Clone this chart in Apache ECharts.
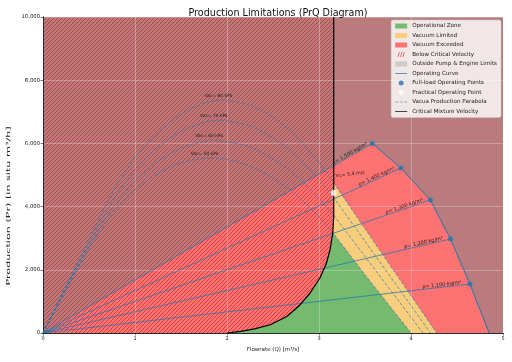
<!DOCTYPE html>
<html><head><meta charset="utf-8">
<script src="https://cdn.jsdelivr.net/npm/echarts@6/dist/echarts.min.js"></script>
<style>html,body{margin:0;padding:0;background:#fff}#c{width:512px;height:362px}</style>
</head><body><div id="c"></div>
<script>
// ---------------- data ----------------
const xMax = 5, yMax = 10000;
const xTicks = [0, 1, 2, 3, 4, 5];
const yTicks = [0, 2000, 4000, 6000, 8000, 10000];
const yAxisTitle = 'Production (Pr) [in situ m³/h]';
const xAxisTitle = 'Flowrate (Q) [m³/s]';

const densityLabels = ['1,500', '1,400', '1,300', '1,200', '1,100'];
const fullLoadQ = [3.58, 3.89, 4.21, 4.43, 4.64];
const fullLoadP = [6000, 5220, 4210, 2975, 1550];

const opCurveQ = [3.58, 3.89, 4.21, 4.43, 4.64, 4.85];
const opCurveP = [6000, 5220, 4210, 2975, 1550, 0];

const critQ = [2.0, 2.15, 2.3, 2.47, 2.65, 2.79, 2.9, 3.01, 3.08, 3.12, 3.15, 3.16, 3.16];
const critP = [0, 50, 130, 260, 520, 880, 1250, 1740, 2200, 2630, 3170, 3700, 10000];
const critLabel = 'Vc= 5.4 m/s';

const practicalQ = [3.16];
const practicalP = [4430];

const vacLabels = ['Vac= 80 kPa', 'Vac= 70 kPa', 'Vac= 60 kPa', 'Vac= 50 kPa'];
const vac1Q = [0, 0.25, 0.5, 0.75, 1, 1.25, 1.5, 1.75, 1.95, 2.25, 2.5, 2.75, 3.0, 3.16, 3.5, 4.0, 4.28];
const vac1P = [0, 1500, 2950, 4420, 5550, 6350, 6920, 7270, 7370, 7210, 6830, 6220, 5400, 4750, 3300, 1180, 0];
const vac2Q = [0, 0.25, 0.5, 0.75, 1, 1.25, 1.5, 1.75, 1.9, 2.25, 2.5, 2.75, 3.0, 3.16, 3.5, 4.0, 4.21];
const vac2P = [0, 1450, 2850, 4150, 5150, 5880, 6380, 6660, 6740, 6550, 6180, 5620, 4860, 4280, 2900, 870, 0];
const vac3Q = [0, 0.25, 0.5, 0.75, 1, 1.25, 1.5, 1.75, 1.85, 2.25, 2.5, 2.75, 3.0, 3.16, 3.5, 4.0, 4.13];
const vac3P = [0, 1400, 2750, 3930, 4800, 5420, 5850, 6070, 6100, 5880, 5510, 4980, 4270, 3720, 2420, 500, 0];
const vac4Q = [0, 0.25, 0.5, 0.75, 1, 1.25, 1.5, 1.8, 2.0, 2.25, 2.5, 2.75, 3.0, 3.15, 3.5, 4.0];
const vac4P = [0, 1350, 2650, 3750, 4520, 5050, 5380, 5540, 5490, 5280, 4900, 4370, 3670, 3170, 1840, 0];

// ---------------- helpers ----------------
const pts = (Q, P) => Q.map((q, i) => [q, P[i]]);
const crit = pts(critQ, critP);
const vac = [pts(vac1Q, vac1P), pts(vac2Q, vac2P), pts(vac3Q, vac3P), pts(vac4Q, vac4P)];
const v1 = vac[0], v4 = vac[3];
const v4Cross = v4.findIndex(p => p[0] >= 3.15);
const v1Cross = v1.findIndex(p => p[0] >= 3.16);

const plotRect = [[0, 0], [xMax, 0], [xMax, yMax], [0, yMax]];
const greenPoly = crit.filter(p => p[1] <= v4[v4Cross][1]).concat(v4.slice(v4Cross + 1));
const yellowPoly = crit.filter(p => p[1] >= v4[v4Cross][1] && p[1] < v1[v1Cross][1])
  .concat(v1.slice(v1Cross))
  .concat(v4.slice(v4Cross + 1).reverse());
const hatchPoly = [[0, 0]].concat(crit).concat([[0, yMax]]);
const outsidePoly = [[0, 0]].concat(pts(opCurveQ, opCurveP)).concat([[xMax, 0], [xMax, yMax], [0, yMax]]);

// hatch pattern (///)
const hc = document.createElement('canvas');
hc.width = 8; hc.height = 8;
const hx = hc.getContext('2d');
hx.strokeStyle = 'rgba(185,20,20,0.62)';
hx.lineWidth = 0.9;
for (let k = 0; k <= 16; k += 4) { hx.beginPath(); hx.moveTo(0, k); hx.lineTo(k, 0); hx.stroke(); }

const FONT = 'DejaVu Sans';
const BLUE = '#1f77b4';

function polySeries(name, poly, fill, z) {
  return {
    name, type: 'custom', z, silent: true, data: [[0, 0]],
    renderItem: (params, api) => ({
      type: 'polygon',
      shape: { points: poly.map(p => api.coord(p)) },
      style: { fill, stroke: 'none' }
    })
  };
}

const series = [
  polySeries('Vacuum Exceeded', plotRect, '#ff7272', 1),
  polySeries('Outside Pump & Engine Limits', outsidePoly, 'rgba(115,132,132,0.5)', 1.2),
  polySeries('Operational Zone', greenPoly, '#74ba6f', 1.4),
  polySeries('Vacuum Limited', yellowPoly, '#f8cd7c', 1.4),
  polySeries('Below Critical Velocity', hatchPoly, { image: hc, repeat: 'repeat' }, 1.6),
];

// density lines
fullLoadQ.forEach((q, i) => {
  series.push({
    name: 'rho' + i, type: 'line', z: 4, silent: true, symbol: 'none',
    data: [[0, 0], [q, fullLoadP[i]]],
    lineStyle: { color: 'rgba(31,119,180,0.75)', width: 1 }
  });
});
// vacuum parabolas
vac.forEach((v, i) => {
  series.push({
    name: i === 0 ? 'Vacua Production Parabola' : 'vac' + i, type: 'line', z: 4, silent: true, symbol: 'none',
    data: v, smooth: 0.25,
    lineStyle: { color: 'rgba(31,119,180,0.7)', width: 1, type: [3, 2] }
  });
});
series.push({
  name: 'Operating Curve', type: 'line', z: 5, silent: true, symbol: 'none',
  data: pts(opCurveQ, opCurveP), lineStyle: { color: BLUE, width: 1 }
});
series.push({
  name: 'Critical Mixture Velocity', type: 'line', z: 5, silent: true, symbol: 'none',
  data: crit, lineStyle: { color: '#000', width: 1.2 }
});
series.push({
  name: 'Full-load Operating Points', type: 'scatter', z: 6, silent: true,
  data: pts(fullLoadQ, fullLoadP), symbolSize: 5, itemStyle: { color: BLUE }
});
series.push({
  name: 'Practical Operating Point', type: 'scatter', z: 6, silent: true,
  data: pts(practicalQ, practicalP), symbolSize: 6, itemStyle: { color: '#fff' }
});
// density labels
series.push({
  name: 'rhoLabels', type: 'custom', z: 7, silent: true,
  data: fullLoadQ.map((q, i) => [q, fullLoadP[i]]),
  renderItem: (params, api) => {
    const i = params.dataIndex;
    const p0 = api.coord([0, 0]);
    const p1 = api.coord([fullLoadQ[i], fullLoadP[i]]);
    const t = 0.935;
    const x = p0[0] + (p1[0] - p0[0]) * t, y = p0[1] + (p1[1] - p0[1]) * t;
    const ang = Math.atan2(p0[1] - p1[1], p1[0] - p0[0]);
    return {
      type: 'text', x, y, rotation: ang,
      style: { text: 'ρ= ' + densityLabels[i] + ' kg/m³', fontSize: 5, fontFamily: FONT, fill: '#222', align: 'center', verticalAlign: 'bottom' }
    };
  }
});
// vacuum labels
series.push({
  name: 'vacLabels', type: 'custom', z: 7, silent: true,
  data: vac.map((v, i) => [i, 0]),
  renderItem: (params, api) => {
    const v = vac[params.dataIndex];
    let top = v[0];
    v.forEach(p => { if (p[1] > top[1]) top = p; });
    const c = api.coord(top);
    return {
      type: 'text', x: c[0] - 4, y: c[1] - 2,
      style: { text: vacLabels[params.dataIndex], fontSize: 4.4, fontFamily: FONT, fill: '#222', align: 'center', verticalAlign: 'bottom' }
    };
  }
});
// critical velocity label
series.push({
  name: 'critLabel', type: 'custom', z: 7, silent: true, data: [[0, 0]],
  renderItem: (params, api) => {
    const c = api.coord([critQ[critQ.length - 1], 5000]);
    return {
      type: 'text', x: c[0] + 2, y: c[1] + 1, rotation: 0.12,
      style: { text: critLabel, fontSize: 4.8, fontFamily: FONT, fill: '#222', align: 'left', verticalAlign: 'middle' }
    };
  }
});

const hatchIcon = 'path://M0,10L1.5,10L4.5,0L3,0Z M5,10L6.5,10L9.5,0L8,0Z M10,10L11.5,10L14.5,0L13,0Z';
const lineIcon = 'path://M0,4.4L20,4.4L20,5.6L0,5.6Z';
const dashIcon = 'path://M0,4.4L5,4.4L5,5.6L0,5.6Z M7.5,4.4L12.5,4.4L12.5,5.6L7.5,5.6Z M15,4.4L20,4.4L20,5.6L15,5.6Z';

const option = {
  animation: false,
  backgroundColor: '#fff',
  title: {
    text: 'Production Limitations (PrQ Diagram)', left: 273, top: 3, textAlign: 'center',
    textStyle: { fontFamily: FONT, fontSize: 9.6, fontWeight: 'normal', color: '#111' }
  },
  grid: { left: 43, right: 9, top: 17, bottom: 29 },
  legend: {
    orient: 'vertical', right: 11, top: 20, padding: [3, 4, 3, 4],
    itemWidth: 12, itemHeight: 5, itemGap: 3.5,
    backgroundColor: 'rgba(255,255,255,0.82)', borderColor: '#ccc', borderWidth: 0.5, borderRadius: 2,
    textStyle: { fontFamily: FONT, fontSize: 5.6, color: '#222', padding: [0, 0, 0, 0] },
    selectedMode: false,
    data: [
      { name: 'Operational Zone', icon: 'rect', itemStyle: { color: '#74ba6f' } },
      { name: 'Vacuum Limited', icon: 'rect', itemStyle: { color: '#f8cd7c' } },
      { name: 'Vacuum Exceeded', icon: 'rect', itemStyle: { color: '#ff7272' } },
      { name: 'Below Critical Velocity', icon: hatchIcon, itemStyle: { color: '#e84a4a' } },
      { name: 'Outside Pump & Engine Limits', icon: 'rect', itemStyle: { color: '#cfc9c9' } },
      { name: 'Operating Curve', icon: lineIcon, itemStyle: { color: BLUE } },
      { name: 'Full-load Operating Points', icon: 'circle', itemStyle: { color: BLUE } },
      { name: 'Practical Operating Point', icon: 'circle', itemStyle: { color: '#fff', borderColor: '#eee', borderWidth: 0.5 } },
      { name: 'Vacua Production Parabola', icon: dashIcon, itemStyle: { color: BLUE } },
      { name: 'Critical Mixture Velocity', icon: lineIcon, itemStyle: { color: '#000' } }
    ]
  },
  xAxis: [{
    type: 'value', min: 0, max: xMax, interval: 1, z: 3,
    name: xAxisTitle, nameLocation: 'middle', nameGap: 14,
    nameTextStyle: { fontFamily: FONT, fontSize: 5.5, color: '#222' },
    axisLine: { show: true, lineStyle: { color: '#222', width: 0.8 } },
    axisTick: { show: true, length: 2.5, lineStyle: { color: '#222', width: 0.6 } },
    axisLabel: { fontFamily: FONT, fontSize: 5, color: '#222', margin: 3, formatter: v => xTicks.includes(v) ? String(v) : '' },
    splitLine: { show: true, lineStyle: { color: 'rgba(255,255,255,0.35)', width: 0.8 } }
  }, {
    type: 'value', position: 'top', min: 0, max: xMax, z: 3,
    axisLine: { show: true, lineStyle: { color: '#222', width: 0.8 } },
    axisTick: { show: false }, axisLabel: { show: false }, splitLine: { show: false }
  }],
  yAxis: [{
    type: 'value', min: 0, max: yMax, interval: 2000, z: 3,
    axisLine: { show: true, lineStyle: { color: '#222', width: 0.8 } },
    axisTick: { show: true, length: 2.5, lineStyle: { color: '#222', width: 0.6 } },
    axisLabel: { fontFamily: FONT, fontSize: 5.3, color: '#222', margin: 3, formatter: v => yTicks.includes(v) ? v.toLocaleString('en-US') : '' },
    splitLine: { show: true, lineStyle: { color: 'rgba(255,255,255,0.35)', width: 0.8 } }
  }, {
    type: 'value', position: 'right', min: 0, max: yMax, z: 3,
    axisLine: { show: true, lineStyle: { color: '#222', width: 0.8 } },
    axisTick: { show: false }, axisLabel: { show: false }, splitLine: { show: false }
  }],
  graphic: [{
    type: 'text', x: 9, y: 206, rotation: Math.PI / 2, scaleX: 2.0, scaleY: 1,
    style: { text: yAxisTitle, fontFamily: FONT, fontSize: 5.6, fill: '#222', align: 'center', verticalAlign: 'middle' }
  }, {
    type: 'group', right: 10, bottom: 31,
    children: [
      { type: 'rect', shape: { x: 0, y: 0, width: 62, height: 18 }, style: { fill: '#1b6fbd' } },
      { type: 'text', x: 6, y: 4, style: { text: 'in', fontFamily: FONT, fontSize: 6, fontStyle: 'italic', fill: '#fff' } },
      { type: 'text', x: 15, y: 2.5, style: { text: 'Dredging', fontFamily: FONT, fontSize: 8, fontStyle: 'italic', fontWeight: 'bold', fill: '#fff' } },
      { type: 'text', x: 8, y: 13, style: { text: 'THE DREDGING KNOWLEDGE BASE', fontFamily: FONT, fontSize: 2.4, fill: '#cfe3f7' } }
    ]
  }],
  series
};
const chart = echarts.init(document.getElementById('c'), null, { renderer: 'canvas' });
chart.setOption(option);
</script></body></html>
